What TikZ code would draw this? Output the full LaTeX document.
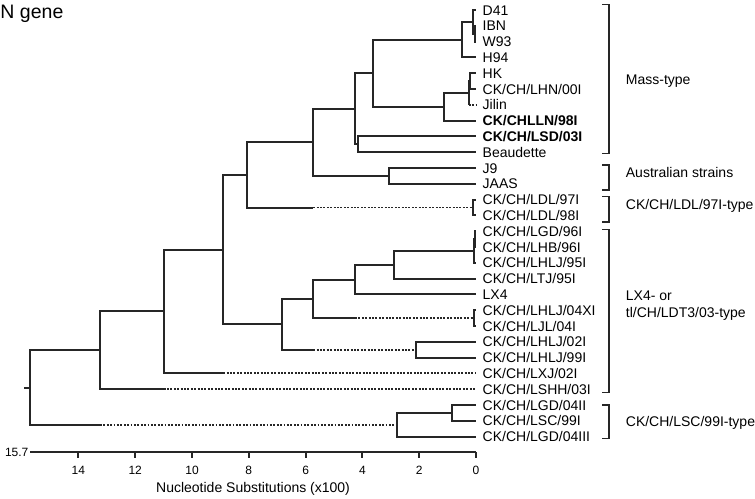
\documentclass[tikz,border=0pt]{standalone}
\usepackage{fontspec}
\setmainfont{Liberation Sans}
\usetikzlibrary{calc}

\tikzset{
    branch/.style={line width=2pt, black!85},
    cut/.style={line width=1.9pt, black!85, dash pattern=on 1.9pt off 1.5pt},
    leaf/.style={anchor=west, inner sep=0pt, xshift=6.5pt, font=\fontsize{14}{16}\selectfont, text height=10pt, text depth=0pt},
    group/.style={anchor=west, inner sep=0pt, font=\fontsize{14}{16.7}\selectfont, align=left},
    brace/.style={line width=1.3pt, black!85},
    tick/.style={inner sep=0pt, font=\fontsize{12}{14}\selectfont}
}

\begin{document}
\begin{tikzpicture}[x=1pt, y=1pt]
    % Fix the page to the figure size
    \useasboundingbox (0,0) rectangle (755,-498);

    % Title
    \node[anchor=base west, inner sep=0pt, font=\fontsize{19.5}{22}\selectfont] (title) at (0.3,-18.8) {N gene};

    % Tree: x is distance (x100 substitutions), y is the row of a strain
    \begin{scope}[shift={(476pt,-10pt)}, x=-28.4pt, y=-15.8pt]

    % Strains, top to bottom
    \foreach \txt [count=\r from 0] in {D41, IBN, W93, H94, HK, CK/CH/LHN/00I, Jilin,
        {\bfseries CK/CHLLN/98I}, {\bfseries CK/CH/LSD/03I}, Beaudette, J9, JAAS,
        CK/CH/LDL/97I, CK/CH/LDL/98I, CK/CH/LGD/96I, CK/CH/LHB/96I, CK/CH/LHLJ/95I,
        CK/CH/LTJ/95I, LX4, CK/CH/LHLJ/04XI, CK/CH/LJL/04I, CK/CH/LHLJ/02I,
        CK/CH/LHLJ/99I, CK/CH/LXJ/02I, CK/CH/LSHH/03I, CK/CH/LGD/04II,
        CK/CH/LSC/99I, CK/CH/LGD/04III}
    {
        \coordinate (l\r) at (0,\r);
        \node[leaf] (t\r) at (l\r) {\txt};
    }

    % Internal nodes (distance, row)
    \coordinate (nIW)  at (0.03,1.5);
    \coordinate (nD41) at (0.10,0.75);
    \coordinate (nH94) at (0.50,1.875);
    \coordinate (nHK)  at (0.20,4.5);
    \coordinate (nJil) at (0.25,5.25);
    \coordinate (nP)   at (1.13,6.125);
    \coordinate (nA)   at (3.62,4);
    \coordinate (nR)   at (4.14,8.5);
    \coordinate (nQ)   at (4.26,6.25);
    \coordinate (nJ9)  at (3.06,10.5);
    \coordinate (nC)   at (5.73,8.375);
    \coordinate (nLDL) at (0.10,12.5);
    \coordinate (nB)   at (8.07,10.44);
    \coordinate (nO1)  at (0.02,14.5);
    \coordinate (nO)   at (0.06,15.25);
    \coordinate (nN)   at (2.89,16.125);
    \coordinate (nM)   at (4.26,17.06);
    \coordinate (nL)   at (0.07,19.5);
    \coordinate (nK)   at (5.73,18.28);
    \coordinate (nJ)   at (2.11,21.5);
    \coordinate (nI)   at (6.82,19.89);
    \coordinate (nD)   at (8.90,15.16);
    \coordinate (nE)   at (11.0,19.08);
    \coordinate (nF)   at (13.24,21.54);
    \coordinate (nH)   at (0.86,25.5);
    \coordinate (nG)   at (2.79,26.25);
    \coordinate (root) at (15.7,23.9);

    % Where a branch turns dotted
    \coordinate (bJil)  at (0.25,6);
    \coordinate (bLDL)  at (5.73,12.5);
    \coordinate (bL)    at (4.26,19.5);
    \coordinate (bJ)    at (5.73,21.5);
    \coordinate (bLXJ)  at (8.90,23);
    \coordinate (bLSHH) at (11.0,24);
    \coordinate (bG)    at (13.24,26.25);
    \coordinate (rtick) at (15.91,23.9);

    % Solid branches
    \foreach \p/\c in {nIW/l1, nIW/l2, nD41/l0, nD41/nIW, nH94/nD41, nH94/l3,
        nHK/l4, nHK/l5, nJil/nHK, nJil/bJil, nP/nJil, nP/l7, nA/nH94, nA/nP,
        nR/l8, nR/l9, nQ/nA, nQ/nR, nJ9/l10, nJ9/l11, nC/nQ, nC/nJ9,
        nLDL/l12, nLDL/l13, nB/nC, nB/bLDL,
        nO1/l14, nO1/l15, nO/nO1, nO/l16, nN/nO, nN/l17, nM/nN, nM/l18,
        nL/l19, nL/l20, nK/nM, nK/bL, nJ/l21, nJ/l22, nI/nK, nI/bJ,
        nD/nB, nD/nI, nE/nD, nE/bLXJ, nF/nE, nF/bLSHH,
        nH/l25, nH/l26, nG/nH, nG/l27, root/nF, root/bG}
        \draw[branch] (\p) |- (\c);
    \draw[branch] (root) -- (rtick);

    % Dotted branches
    \foreach \p/\c in {bJil/l6, bLDL/nLDL, bL/nL, bJ/nJ, bLXJ/l23, bLSHH/l24, bG/nG}
        \draw[cut] (\p) -- (\c);

    % Scale axis
    \coordinate (ax0) at (0,28);
    \coordinate (axEnd) at (15.7,28);
    \draw[branch] (axEnd) -- (ax0);
    \foreach \t in {0,2,...,14}{
        \draw[branch] (\t,28) -- (\t,28.38);
        \node[tick] (tk\t) at (\t,29.16) {\t};
    }
    \node[tick, anchor=east, inner sep=1.5pt] (tk157) at (axEnd) {15.7};
    \node[inner sep=0pt, font=\fontsize{14}{16}\selectfont] (axlabel) at (7.85,30.3) {Nucleotide Substitutions (x100)};
    \end{scope}

    % Groups
    \draw[brace] (602,-4.5) -- (609,-4.5) -- (609,-153.3) -- (602,-153.3);
    \node[group] (gMass) at (625.7,-81) {Mass-type};
    \draw[brace] (602,-165) -- (609,-165) -- (609,-190) -- (602,-190);
    \node[group] (gAus) at (625.7,-172) {Australian strains};
    \draw[brace] (602,-196.7) -- (609,-196.7) -- (609,-222) -- (602,-222);
    \node[group] (gLDL) at (625.7,-206) {CK/CH/LDL/97I-type};
    \draw[brace] (602,-229.5) -- (609,-229.5) -- (609,-392.7) -- (602,-392.7);
    \node[group] (gLX4) at (625.7,-305.5) {LX4- or\\tl/CH/LDT3/03-type};
    \draw[brace] (602,-405) -- (609,-405) -- (609,-438.3) -- (602,-438.3);
    \node[group] (gLSC) at (625.7,-423) {CK/CH/LSC/99I-type};

\end{tikzpicture}
\end{document}
